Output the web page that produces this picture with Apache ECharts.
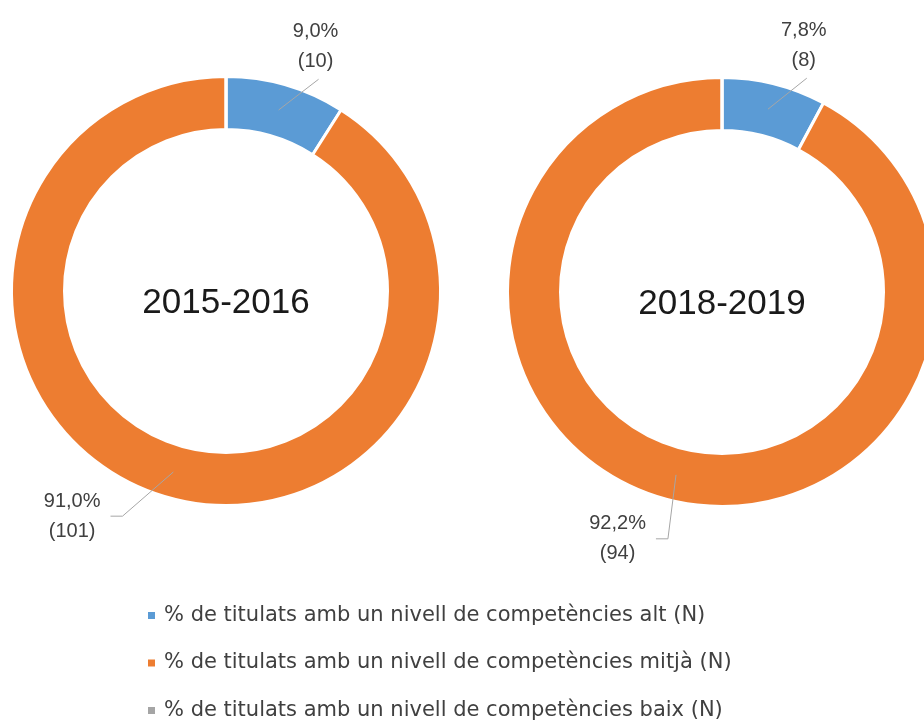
<!DOCTYPE html>
<html>
<head>
    <meta charset="utf-8">
    <title>Nivell de competències</title>
    <script src="https://cdn.jsdelivr.net/npm/echarts@6/dist/echarts.min.js"></script>
    <style>
        body { margin: 0; background: #fff; }
    </style>
</head>
<body>
<div id="main" style="width: 924px;height:722px;"></div>
<script type="text/javascript">
    // cursos
    var years = ['2015-2016', '2018-2019']
    // categories (llegenda)
    var categories = [
        '% de titulats amb un nivell de competències alt (N)',
        '% de titulats amb un nivell de competències mitjà (N)',
        '% de titulats amb un nivell de competències baix (N)'
    ]
    // N per curs
    var alt = [10, 8]
    var mitja = [101, 94]
    var baix = [0, 0]

    var colors = ['#5B9BD5', '#ED7D31', '#A5A5A5']
    var centers = [[226, 291], [722, 292]]
    var radius = [161.5, 214.5]
    // per item: [length, length2] of the leader line
    var leaderLens = [
        [[6, 31], [20, 50]],
        [[6, 31], [40, 4]]
    ]

    function fmt(p) {
        return p.percent.toFixed(1).replace('.', ',') + '%\n(' + p.value + ')'
    }

    // excel-like leader: starts inside the ring, text lines centered
    function leaderLayout(p) {
        var pts = p.labelLinePoints
        if (!pts || pts.length < 3) return {}
        var a = pts[0], b = pts[1], c = pts[2]
        var dx = b[0] - a[0], dy = b[1] - a[1]
        var len = Math.sqrt(dx * dx + dy * dy) || 1
        var start = [a[0] - dx / len * 26, a[1] - dy / len * 26]
        if (p.dataIndex === 0) {
            return {
                x: c[0] - 3, y: c[1] - 3,
                align: 'center', verticalAlign: 'bottom',
                labelLinePoints: [start, c]
            }
        }
        var side = c[0] < a[0] ? 1 : -1
        var w = p.labelRect ? p.labelRect.width : 60
        return {
            x: c[0] - side * (10 + w / 2), y: c[1],
            align: 'center', verticalAlign: 'middle',
            labelLinePoints: [start, [c[0] + side * 12, c[1]], c]
        }
    }

    var myChart = echarts.init(document.getElementById('main'))

    var series = []
    // the rings
    years.forEach(function (yr, i) {
        var vals = [alt[i], mitja[i], baix[i]]
        series.push({
            name: yr,
            type: 'pie',
            center: centers[i],
            radius: radius,
            startAngle: 90,
            silent: true,
            z: 2,
            itemStyle: { borderColor: '#fff', borderWidth: 3 },
            label: { show: false },
            labelLine: { show: false },
            data: categories.map(function (c, k) {
                return { name: c, value: vals[k] }
            })
        })
    })
    // same data again, transparent, only to carry labels + leader lines above the rings
    years.forEach(function (yr, i) {
        var vals = [alt[i], mitja[i], baix[i]]
        series.push({
            name: yr + ' etiquetes',
            type: 'pie',
            center: centers[i],
            radius: radius,
            startAngle: 90,
            avoidLabelOverlap: false,
            silent: true,
            z: 5,
            itemStyle: { color: 'rgba(0,0,0,0)', borderWidth: 0 },
            label: {
                show: true,
                position: 'outside',
                formatter: fmt,
                fontFamily: 'Liberation Sans',
                fontSize: 20,
                lineHeight: 30,
                color: '#404040',
                distanceToLabelLine: 10
            },
            labelLine: {
                show: true,
                lineStyle: { color: '#A6A6A6', width: 1 }
            },
            labelLayout: leaderLayout,
            data: categories.map(function (c, k) {
                var item = { name: c, value: vals[k] }
                if (vals[k] === 0) {
                    item.label = { show: false }
                    item.labelLine = { show: false }
                } else {
                    item.labelLine = { length: leaderLens[i][k][0], length2: leaderLens[i][k][1] }
                }
                return item
            })
        })
    })

    var option = {
        animation: false,
        color: colors,
        legend: {
            orient: 'vertical',
            left: 146,
            top: 605,
            padding: 0,
            itemGap: 26.5,
            itemWidth: 9,
            itemHeight: 9,
            icon: 'rect',
            selectedMode: false,
            data: categories,
            textStyle: {
                fontFamily: 'DejaVu Sans',
                fontSize: 21,
                lineHeight: 21,
                color: '#404040',
                padding: [0, 0, 0, 3]
            }
        },
        graphic: years.map(function (yr, i) {
            return {
                type: 'text',
                x: centers[i][0],
                y: centers[i][1] + 12,
                silent: true,
                style: {
                    text: yr,
                    fontFamily: 'Liberation Sans',
                    fontSize: 35,
                    fill: '#1a1a1a',
                    align: 'center',
                    verticalAlign: 'middle'
                }
            }
        }),
        series: series
    }

    myChart.setOption(option)
</script>
</body>
</html>
